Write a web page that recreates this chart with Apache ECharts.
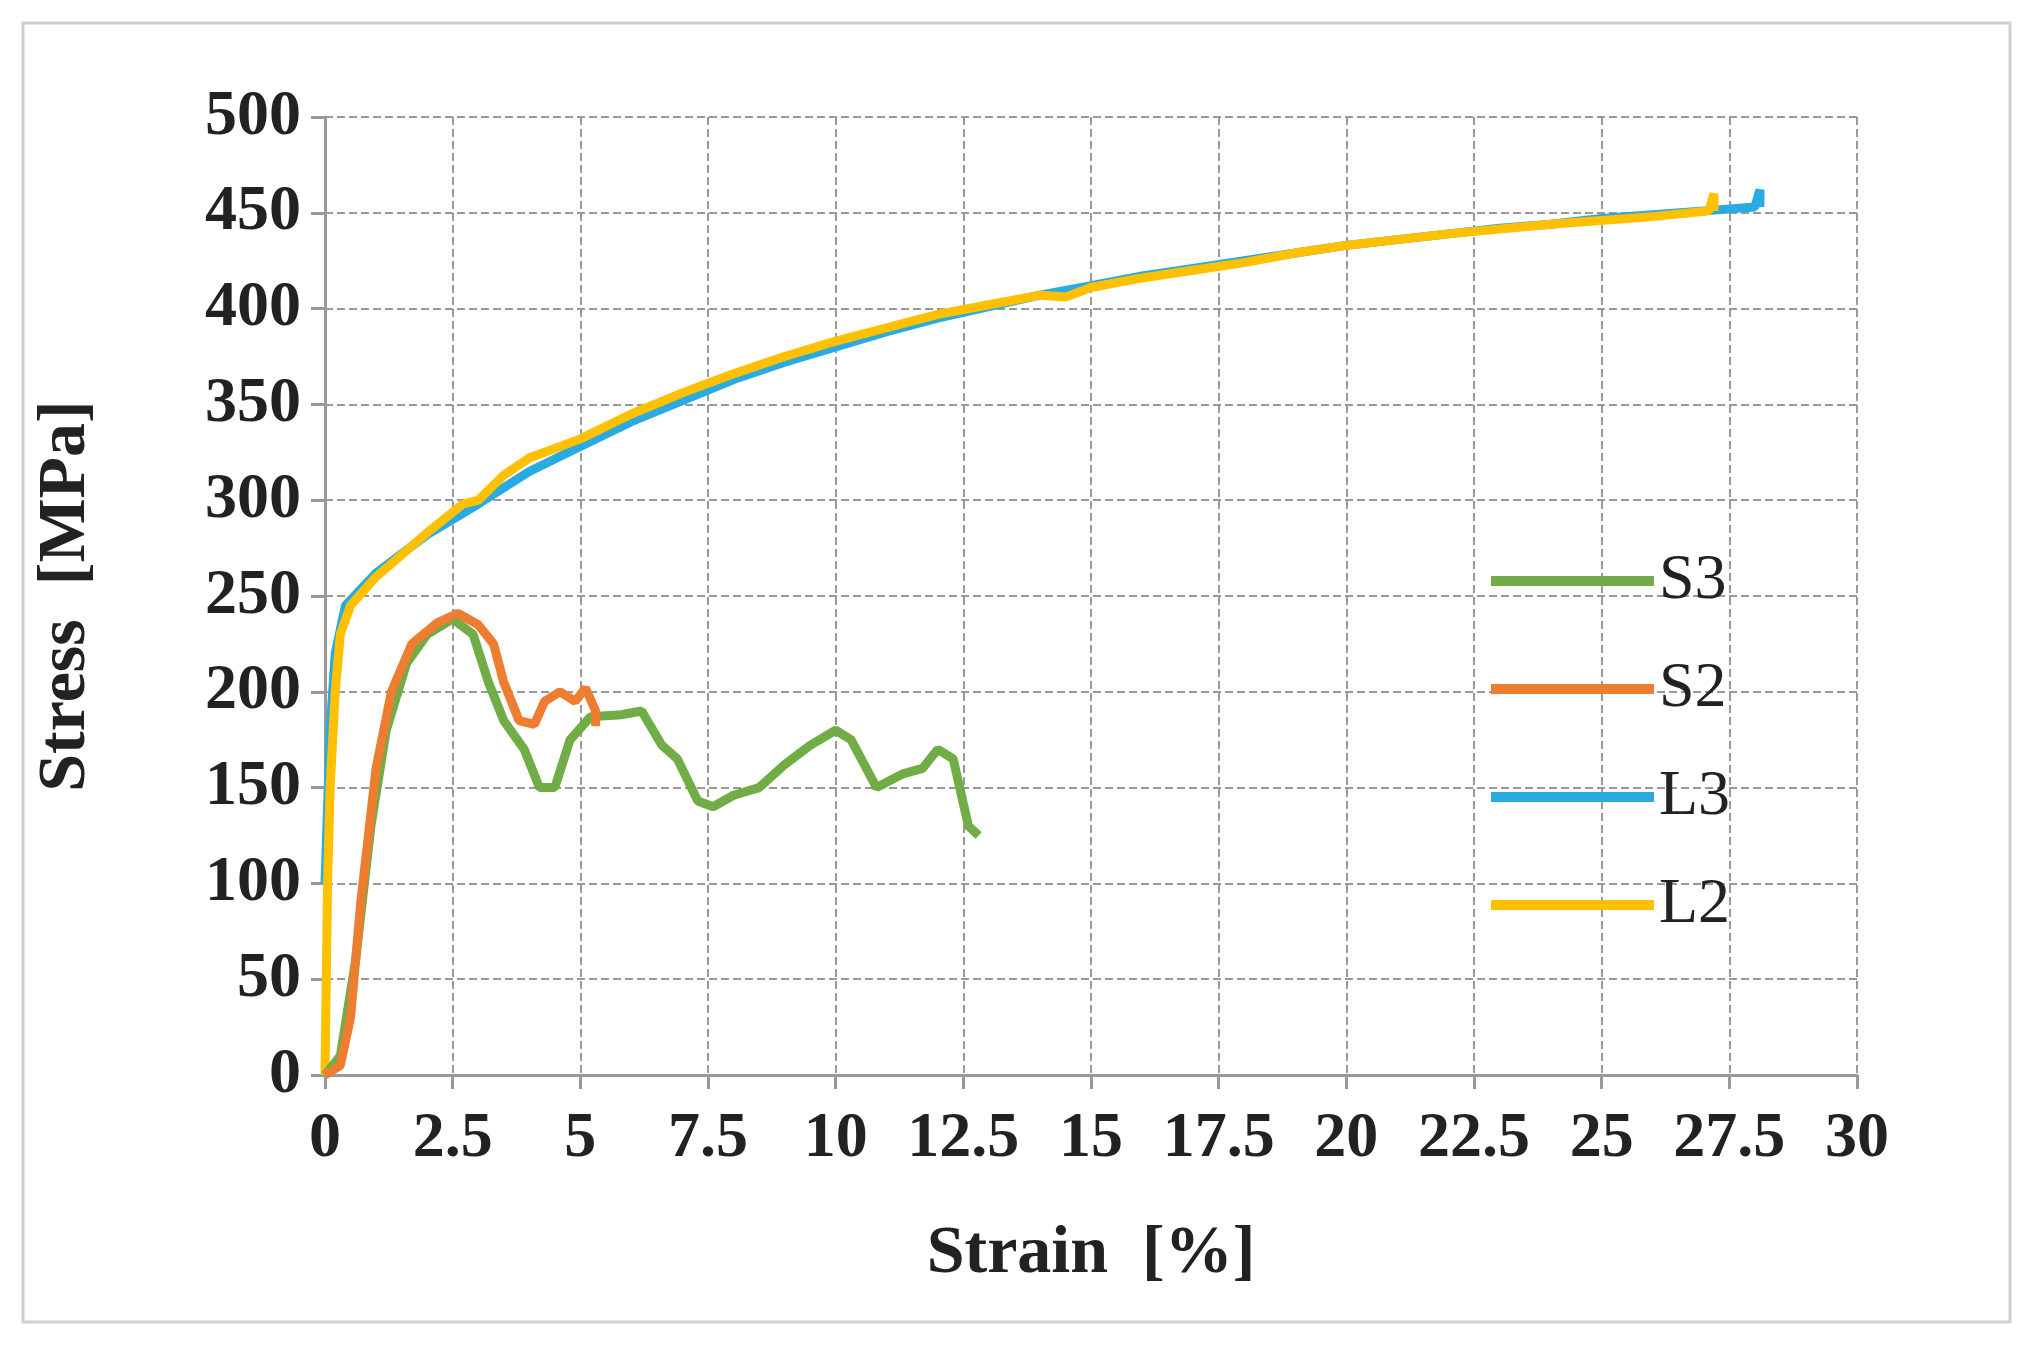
<!DOCTYPE html>
<html><head><meta charset="utf-8">
<script src="https://cdn.jsdelivr.net/npm/echarts@6/dist/echarts.min.js"></script>
<style>html,body{margin:0;padding:0;background:#fff}#c{width:2036px;height:1346px}</style>
</head><body><div id="c"></div>
<script>
// strain [%], stress [MPa]
var s3 = [[0,0],[0.3,10],[0.6,60],[0.9,130],[1.2,180],[1.6,215],[2,230],[2.5,238],[2.9,230],[3.2,205],[3.5,185],[3.9,170],[4.2,150],[4.5,150],[4.8,175],[5.2,187],[5.8,188],[6.2,190],[6.6,172],[6.9,165],[7.3,143],[7.6,140],[8,146],[8.5,150],[9,162],[9.5,172],[10,180],[10.3,175],[10.6,160],[10.8,150],[11.3,157],[11.7,160],[12,170],[12.3,165],[12.6,130],[12.8,125]];
var s2 = [[0,0],[0.3,5],[0.5,30],[0.7,90],[1,160],[1.3,200],[1.7,225],[2.2,236],[2.6,241],[3,235],[3.3,225],[3.5,205],[3.8,185],[4.1,183],[4.3,195],[4.6,200],[4.9,195],[5.1,202],[5.3,190],[5.3,182]];
var l3 = [[0,100],[0.1,180],[0.2,220],[0.4,245],[1,262],[2,282],[3,298],[4,315],[5,328],[6,341],[7,352],[8,363],[9,372],[10,380],[11,388],[12,395],[13,401],[14,407],[15,412],[16,417],[17,421],[18,425],[19,429],[20,433],[21,436],[22,439],[23,442],[24,444],[25,447],[26,449],[27,451],[28,453],[28.1,462],[28.1,453]];
var l2 = [[0,0],[0.05,100],[0.1,150],[0.2,200],[0.3,230],[0.5,245],[1,260],[2,283],[2.7,298],[3,300],[3.5,313],[4,322],[5,332],[6,345],[7,356],[8,366],[9,375],[10,383],[11,390],[12,397],[13,402],[14,407],[14.5,406],[15,411],[16,416],[17,420],[18,424],[19,429],[20,433],[22,439],[24,444],[26,448],[27.1,451],[27.2,460],[27.2,451]];

var font = 'Liberation Serif';
var chart = echarts.init(document.getElementById('c'));
function line(name, data, color){
  return {name:name, type:'line', data:data, showSymbol:false, symbol:'none',
    lineStyle:{color:color, width:9}, itemStyle:{color:color}};
}
chart.setOption({
  animation:false,
  graphic:[{type:'rect', shape:{x:23,y:23,width:1987,height:1299}, style:{fill:'none',stroke:'#d0d0d0',lineWidth:3}}],
  grid:{left:325,right:179,top:117,bottom:271},
  legend:{orient:'vertical', left:1486, top:544, itemWidth:163, itemHeight:10, itemGap:44,
    icon:'rect', textStyle:{fontFamily:font, fontSize:64, color:'#222'},
    data:['S3','S2','L3','L2']},
  xAxis:{type:'value', min:0, max:30, interval:2.5,
    name:'Strain  [%]', nameLocation:'middle', nameGap:145,
    nameTextStyle:{fontFamily:font, fontWeight:'bold', fontSize:68, color:'#222'},
    axisLine:{lineStyle:{color:'#999',width:3}},
    axisTick:{show:true, length:14, lineStyle:{color:'#999',width:3}},
    axisLabel:{fontFamily:font, fontWeight:'bold', fontSize:64, color:'#222', margin:32},
    splitLine:{lineStyle:{color:'#999', type:'dashed', width:2}}},
  yAxis:{type:'value', min:0, max:500, interval:50,
    name:'Stress  [MPa]', nameLocation:'middle', nameGap:225,
    nameTextStyle:{fontFamily:font, fontWeight:'bold', fontSize:68, color:'#222'},
    axisLine:{show:true, lineStyle:{color:'#999',width:3}},
    axisTick:{show:true, length:14, lineStyle:{color:'#999',width:3}},
    axisLabel:{fontFamily:font, fontWeight:'bold', fontSize:64, color:'#222', margin:24},
    splitLine:{lineStyle:{color:'#999', type:'dashed', width:2}}},
  series:[line('L3', l3, '#29abe2'), line('L2', l2, '#ffc000'), line('S3', s3, '#70ad47'), line('S2', s2, '#ed7d31')]
});
</script></body></html>
